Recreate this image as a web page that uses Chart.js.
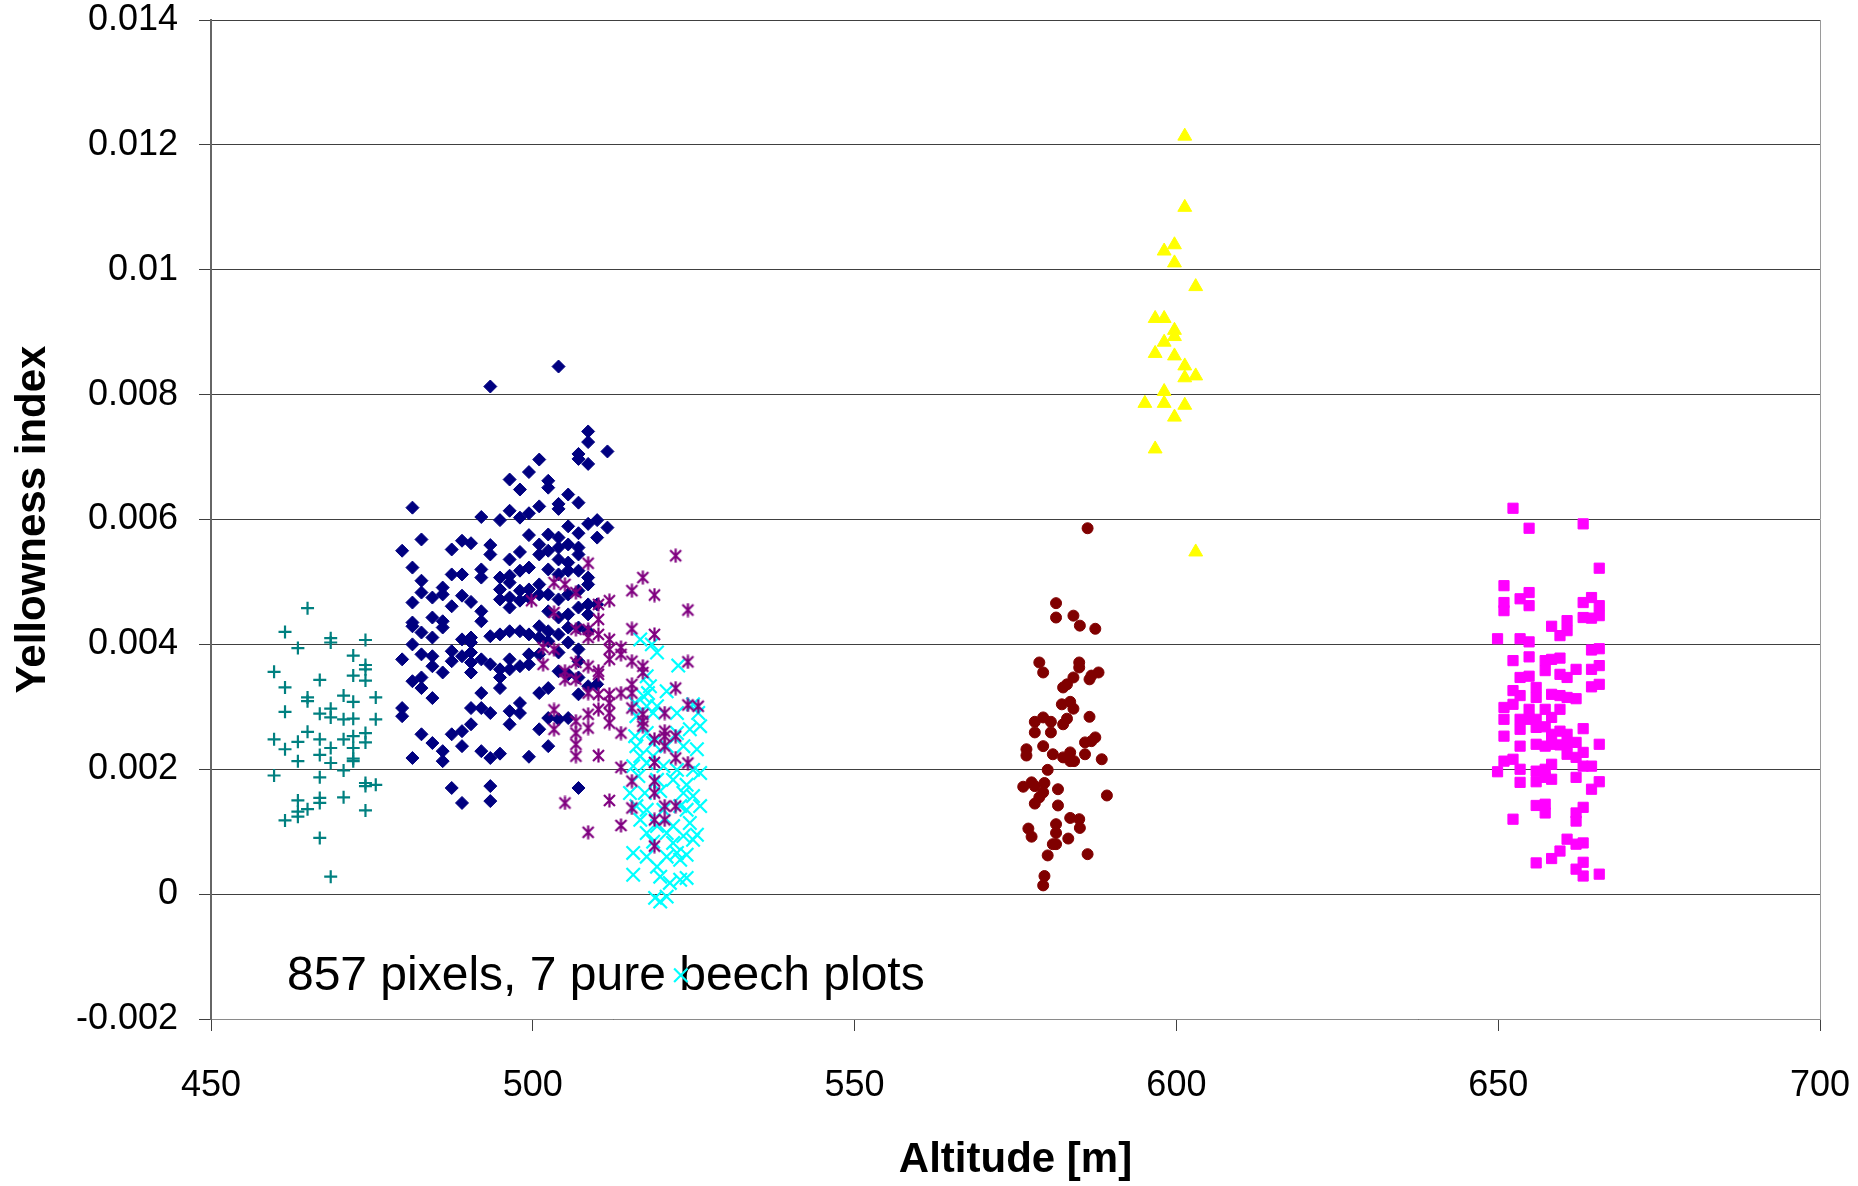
<!DOCTYPE html>
<html>
<head>
<meta charset="utf-8">
<script src="https://cdn.jsdelivr.net/npm/chart.js@4.4.1/dist/chart.umd.min.js"></script>
<style>
  html, body { margin: 0; padding: 0; background: #fff; }
  #chart { display: block; }
</style>
</head>
<body>
<canvas id="chart" width="1858" height="1186"></canvas>
<script>
// axis setup
const xMin = 450, xMax = 700, xStep = 50;
const yMin = -0.002, yMax = 0.014, yStep = 0.002;
const yTickLabels = ['-0.002', '0', '0.002', '0.004', '0.006', '0.008', '0.01', '0.012', '0.014'];
const xTitle = 'Altitude [m]';
const yTitle = 'Yellowness index';
const noteText = '857 pixels, 7 pure beech plots';
const notePos = [461.8, -0.00153]; // altitude, index (text baseline)

// [altitude, yellowness index] per plot
const tealPts = [
  [465.0,0.00458],[461.5,0.00420],[468.6,0.00410],[468.6,0.00403],[474.0,0.00407],[463.5,0.00394],
  [472.1,0.00382],[474.0,0.00367],[474.0,0.00360],[459.8,0.00356],[466.9,0.00343],[472.1,0.00350],
  [474.0,0.00342],[461.5,0.00331],[465.0,0.00315],[465.0,0.00309],[470.6,0.00318],[475.6,0.00315],
  [472.1,0.00308],[461.5,0.00292],[466.9,0.00289],[468.6,0.00297],[468.6,0.00283],[470.6,0.00280],
  [472.1,0.00281],[475.6,0.00280],[465.0,0.00260],[459.8,0.00248],[463.5,0.00244],[466.9,0.00248],
  [470.6,0.00248],[472.1,0.00253],[474.0,0.00258],[461.5,0.00232],[468.6,0.00234],[472.1,0.00234],
  [474.0,0.00243],[463.5,0.00213],[466.9,0.00223],[468.6,0.00210],[472.1,0.00217],[472.1,0.00213],
  [470.6,0.00198],[459.8,0.00190],[466.9,0.00187],[474.0,0.00178],[475.6,0.00175],[474.0,0.00173],
  [463.5,0.00150],[466.9,0.00154],[470.6,0.00155],[466.9,0.00146],[463.5,0.00132],[465.0,0.00136],
  [463.5,0.00124],[461.5,0.00118],[474.0,0.00134],[466.9,0.00090],[468.6,0.00028]
];

const navyPts = [
  [504.0,0.00845],[493.4,0.00813],
  [508.6,0.00741],[508.6,0.00724],[507.1,0.00705],[507.1,0.00697],[511.6,0.00709],[508.6,0.00689],
  [501.0,0.00696],[499.4,0.00676],[496.4,0.00664],[498.0,0.00648],[502.4,0.00662],[502.4,0.00651],
  [481.3,0.00619],[505.5,0.00640],[507.1,0.00627],[504.0,0.00625],[504.0,0.00617],[501.0,0.00621],
  [499.4,0.00610],[498.0,0.00603],[496.4,0.00614],[494.9,0.00599],[492.0,0.00604],[508.6,0.00593],
  [510.0,0.00599],[511.6,0.00587],[510.0,0.00571],[505.5,0.00589],[507.1,0.00578],[499.4,0.00575],
  [502.4,0.00576],[504.0,0.00571],[482.7,0.00568],[489.0,0.00566],[490.4,0.00562],[487.4,0.00552],
  [479.7,0.00550],[493.4,0.00559],[493.4,0.00544],[498.0,0.00548],[496.4,0.00536],[501.0,0.00560],
  [502.4,0.00550],[504.0,0.00555],[505.5,0.00560],[507.1,0.00555],[507.1,0.00544],[505.5,0.00531],
  [504.0,0.00536],[501.0,0.00544],[481.3,0.00523],[492.0,0.00520],[492.0,0.00507],[494.9,0.00507],
  [496.4,0.00510],[498.0,0.00518],[499.4,0.00523],[502.4,0.00520],[504.0,0.00512],[505.5,0.00518],
  [507.1,0.00518],[508.6,0.00507],[508.6,0.00496],[487.4,0.00512],[489.0,0.00512],[482.7,0.00502],
  [486.0,0.00491],[482.7,0.00483],[484.4,0.00475],[486.0,0.00480],[489.0,0.00478],[490.4,0.00468],
  [487.4,0.00461],[481.3,0.00467],[484.4,0.00443],[481.3,0.00435],[481.3,0.00429],[486.0,0.00437],
  [486.0,0.00427],[492.0,0.00453],[492.0,0.00437],[494.9,0.00488],[494.9,0.00472],[496.4,0.00499],
  [496.4,0.00475],[496.4,0.00459],[498.0,0.00486],[498.0,0.00470],[499.4,0.00488],[499.4,0.00475],
  [501.0,0.00496],[501.0,0.00480],[502.4,0.00480],[504.0,0.00472],[505.5,0.00480],[507.1,0.00486],
  [508.6,0.00464],[510.0,0.00464],[482.7,0.00419],[484.4,0.00411],[481.3,0.00400],[489.0,0.00408],
  [490.4,0.00411],[493.4,0.00413],[494.9,0.00416],[496.4,0.00421],[498.0,0.00421],[499.4,0.00416],
  [501.0,0.00429],[501.0,0.00411],[502.4,0.00421],[504.0,0.00416],[505.5,0.00427],[507.1,0.00427],
  [508.6,0.00421],[502.4,0.00453],[504.0,0.00443],[505.5,0.00448],[507.1,0.00459],[508.6,0.00448],
  [479.7,0.00376],[482.7,0.00384],[484.4,0.00381],[484.4,0.00365],[486.0,0.00355],[487.4,0.00389],
  [487.4,0.00373],[489.0,0.00381],[490.4,0.00403],[490.4,0.00387],[490.4,0.00371],[490.4,0.00355],
  [492.0,0.00376],[493.4,0.00368],[494.9,0.00360],[494.9,0.00347],[494.9,0.00330],[496.4,0.00376],
  [496.4,0.00360],[498.0,0.00365],[499.4,0.00384],[499.4,0.00368],[501.0,0.00384],[502.4,0.00405],
  [504.0,0.00387],[505.5,0.00403],[507.1,0.00392],[507.1,0.00373],[504.0,0.00357],[505.5,0.00352],
  [507.1,0.00347],[481.3,0.00341],[482.7,0.00347],[482.7,0.00330],[484.4,0.00314],[492.0,0.00322],
  [501.0,0.00322],[502.4,0.00330],[507.1,0.00320],[508.6,0.00333],[510.0,0.00336],[479.7,0.00298],
  [479.7,0.00285],[490.4,0.00298],[492.0,0.00298],[493.4,0.00290],[496.4,0.00293],[498.0,0.00306],
  [498.0,0.00290],[496.4,0.00272],[490.4,0.00272],[489.0,0.00261],[487.4,0.00256],[482.7,0.00256],
  [484.4,0.00242],[486.0,0.00229],[486.0,0.00213],[481.3,0.00218],[489.0,0.00237],[492.0,0.00229],
  [493.4,0.00218],[494.9,0.00225],[499.4,0.00220],[501.0,0.00264],[502.4,0.00237],[502.4,0.00282],
  [504.0,0.00280],[505.5,0.00282],[487.4,0.00170],[489.0,0.00146],[493.4,0.00173],[493.4,0.00149],
  [507.1,0.00170]
];

const purplePts = [
  [522.2,0.00542],[508.6,0.00530],[517.1,0.00507],[515.4,0.00486],[518.9,0.00479],[524.1,0.00455],
  [503.3,0.00499],[505.0,0.00496],[506.7,0.00483],[499.8,0.00470],[510.2,0.00464],[511.9,0.00470],
  [503.3,0.00451],[510.2,0.00440],[515.4,0.00425],[518.9,0.00416],[506.7,0.00424],[508.6,0.00424],
  [510.2,0.00416],[511.9,0.00408],[508.6,0.00411],[501.6,0.00395],[503.3,0.00392],[511.9,0.00392],
  [513.7,0.00395],[513.7,0.00384],[511.9,0.00376],[515.4,0.00373],[517.1,0.00365],[517.1,0.00355],
  [524.1,0.00372],[505.0,0.00357],[506.7,0.00371],[501.6,0.00368],[508.6,0.00365],[510.2,0.00357],
  [510.2,0.00352],[505.0,0.00344],[506.7,0.00344],[515.4,0.00336],[515.4,0.00322],[513.7,0.00322],
  [511.9,0.00320],[511.9,0.00306],[508.6,0.00322],[510.2,0.00320],[522.2,0.00330],[524.1,0.00303],
  [525.7,0.00301],[520.5,0.00290],[517.1,0.00288],[517.1,0.00277],[517.1,0.00269],[520.5,0.00261],
  [520.5,0.00253],[522.2,0.00253],[518.9,0.00248],[520.5,0.00237],[503.3,0.00295],[503.3,0.00264],
  [506.7,0.00277],[506.7,0.00258],[506.7,0.00240],[506.7,0.00221],[508.6,0.00288],[508.6,0.00266],
  [510.2,0.00296],[511.9,0.00290],[511.9,0.00274],[513.7,0.00258],[515.4,0.00298],[510.2,0.00222],
  [522.2,0.00218],[524.1,0.00210],[518.9,0.00211],[513.7,0.00203],[515.4,0.00181],[518.9,0.00181],
  [518.9,0.00162],[505.0,0.00146],[511.9,0.00150],[515.4,0.00138],[520.5,0.00141],[522.2,0.00141],
  [518.9,0.00119],[520.5,0.00119],[513.7,0.00110],[508.6,0.00099],[518.9,0.00077]
];

const cyanPts = [
  [516.7,0.00408],[518.5,0.00400],[519.3,0.00387],[522.6,0.00366],[517.7,0.00349],[518.2,0.00333],
  [517.2,0.00317],[517.9,0.00322],[520.8,0.00325],[515.9,0.00306],[517.7,0.00301],[519.3,0.00301],
  [516.1,0.00285],[518.7,0.00290],[522.4,0.00290],[524.9,0.00304],[525.7,0.00290],[526.0,0.00269],
  [524.4,0.00264],[522.4,0.00258],[517.7,0.00258],[515.9,0.00253],[518.7,0.00242],[516.1,0.00237],
  [520.8,0.00237],[523.4,0.00237],[525.5,0.00232],[516.7,0.00221],[518.7,0.00221],[515.6,0.00205],
  [517.7,0.00210],[520.3,0.00205],[522.4,0.00199],[524.9,0.00199],[526.0,0.00194],[516.4,0.00189],
  [519.3,0.00183],[521.8,0.00183],[523.9,0.00175],[515.1,0.00162],[517.4,0.00162],[519.8,0.00165],
  [523.4,0.00162],[524.9,0.00157],[526.0,0.00141],[516.1,0.00141],[517.7,0.00135],[520.3,0.00135],
  [522.9,0.00141],[523.9,0.00135],[516.7,0.00119],[519.3,0.00109],[521.8,0.00109],[524.4,0.00114],
  [517.7,0.00098],[520.8,0.00098],[523.4,0.00093],[518.7,0.00084],[521.8,0.00082],[524.9,0.00087],
  [525.5,0.00095],[515.6,0.00066],[517.7,0.00060],[520.8,0.00060],[522.4,0.00066],[523.9,0.00063],
  [519.3,0.00044],[522.9,0.00055],[515.6,0.00031],[519.8,0.00028],[521.3,0.00018],[522.9,0.00023],
  [523.9,0.00026],[519.0,-0.00006],[520.8,-0.00004],[519.8,-0.00012],[523.0,-0.00130]
];

const maroonPts = [
  [586.2,0.00586],[581.3,0.00466],[581.3,0.00443],[584.0,0.00446],[585.0,0.00430],[587.4,0.00425],
  [578.7,0.00371],[579.3,0.00355],[584.9,0.00371],[584.9,0.00363],[584.0,0.00347],[586.5,0.00344],
  [586.8,0.00350],[587.9,0.00355],[582.4,0.00331],[583.0,0.00336],[582.2,0.00304],[583.5,0.00308],
  [584.0,0.00297],[586.5,0.00284],[582.4,0.00272],[583.0,0.00281],[578.0,0.00276],[579.3,0.00283],
  [580.5,0.00276],[578.0,0.00259],[580.5,0.00259],[576.7,0.00232],[576.7,0.00222],[579.3,0.00237],
  [580.8,0.00224],[582.4,0.00219],[583.5,0.00227],[583.5,0.00213],[584.1,0.00213],[585.8,0.00224],
  [585.8,0.00243],[586.8,0.00245],[587.4,0.00251],[588.4,0.00216],[580.0,0.00199],[576.2,0.00172],
  [577.5,0.00179],[578.0,0.00173],[579.5,0.00178],[579.3,0.00163],[578.7,0.00155],[578.0,0.00145],
  [581.6,0.00168],[581.6,0.00142],[589.2,0.00158],[583.5,0.00122],[584.9,0.00120],[585.0,0.00106],
  [577.0,0.00105],[577.5,0.00092],[581.3,0.00112],[581.3,0.00098],[583.2,0.00089],[580.8,0.00080],
  [581.3,0.00080],[580.0,0.00062],[586.2,0.00064],[579.5,0.00029],[579.3,0.00014]
];

const yellowPts = [
  [601.3,0.01214],[601.3,0.01100],[599.7,0.01040],[598.1,0.01030],[599.7,0.01011],[603.0,0.00973],
  [596.7,0.00922],[598.1,0.00922],[599.7,0.00903],[599.7,0.00893],[598.1,0.00884],[596.7,0.00866],
  [599.7,0.00862],[601.3,0.00846],[601.3,0.00827],[603.0,0.00830],[598.1,0.00805],[595.1,0.00786],
  [598.1,0.00786],[601.3,0.00783],[599.7,0.00764],[596.7,0.00713],[603.0,0.00548]
];

const magentaPts = [
  [652.3,0.00618],[654.8,0.00586],[663.2,0.00593],[665.7,0.00522],[650.9,0.00494],[654.8,0.00483],
  [653.4,0.00473],[654.8,0.00462],[650.9,0.00467],[650.9,0.00454],[663.2,0.00467],[664.5,0.00475],
  [665.7,0.00462],[665.7,0.00446],[663.2,0.00443],[664.5,0.00442],[658.3,0.00429],[660.7,0.00438],
  [660.7,0.00422],[659.6,0.00414],[649.9,0.00409],[653.4,0.00409],[654.8,0.00404],[664.5,0.00391],
  [665.7,0.00393],[652.3,0.00374],[654.8,0.00380],[657.3,0.00374],[658.3,0.00376],[659.6,0.00378],
  [662.1,0.00360],[664.5,0.00360],[665.7,0.00366],[664.5,0.00332],[665.7,0.00336],[653.4,0.00347],
  [654.8,0.00349],[657.3,0.00358],[659.6,0.00352],[660.7,0.00347],[655.9,0.00331],[652.3,0.00326],
  [653.4,0.00318],[655.9,0.00315],[658.3,0.00320],[659.6,0.00318],[660.7,0.00315],[662.1,0.00313],
  [650.9,0.00299],[652.3,0.00304],[654.8,0.00296],[657.3,0.00296],[659.6,0.00296],[658.3,0.00283],
  [650.9,0.00280],[653.4,0.00280],[654.8,0.00280],[655.9,0.00280],[650.9,0.00253],[653.4,0.00264],
  [655.9,0.00267],[657.3,0.00268],[658.3,0.00256],[659.6,0.00261],[660.7,0.00256],[663.2,0.00265],
  [653.4,0.00237],[655.9,0.00240],[657.3,0.00237],[658.3,0.00240],[659.6,0.00239],[660.7,0.00240],
  [662.1,0.00243],[665.7,0.00240],[660.7,0.00224],[662.1,0.00219],[663.2,0.00227],[650.9,0.00213],
  [652.3,0.00216],[649.9,0.00196],[653.4,0.00200],[655.9,0.00197],[657.3,0.00200],[658.3,0.00208],
  [663.2,0.00205],[664.5,0.00205],[653.4,0.00179],[655.9,0.00180],[657.3,0.00187],[658.3,0.00184],
  [662.1,0.00187],[665.7,0.00180],[664.5,0.00168],[655.9,0.00142],[657.3,0.00144],[657.3,0.00130],
  [663.2,0.00139],[662.1,0.00130],[662.1,0.00117],[652.3,0.00120],[660.7,0.00088],[662.1,0.00080],
  [663.2,0.00082],[659.6,0.00069],[658.3,0.00057],[655.9,0.00050],[663.2,0.00051],[662.1,0.00040],
  [663.2,0.00029],[665.7,0.00032]
];

// Excel style asterisk: an x with a vertical bar
function asterisk(color, size) {
  const c = document.createElement('canvas');
  c.width = size; c.height = size;
  const g = c.getContext('2d');
  g.strokeStyle = color;
  g.lineWidth = 2.2;
  const lo = 2, hi = size - 2, mid = size / 2;
  g.beginPath();
  g.moveTo(lo, lo); g.lineTo(hi, hi);
  g.moveTo(hi, lo); g.lineTo(lo, hi);
  g.moveTo(mid, 0.5); g.lineTo(mid, size - 0.5);
  g.stroke();
  return c;
}

const toXY = pts => pts.map(p => ({ x: p[0], y: p[1] }));

function series(pts, color, style, radius, bw) {
  return {
    data: toXY(pts),
    pointStyle: style,
    pointRadius: radius,
    pointBackgroundColor: color,
    pointBorderColor: color,
    pointBorderWidth: bw,
    showLine: false
  };
}

const FONT = "'Liberation Sans', Arial, sans-serif";

// plot frame and the text note inside the plot
const framePlugin = {
  id: 'frame',
  beforeDatasetsDraw(chart) {
    const { ctx, chartArea: a, scales } = chart;
    ctx.save();
    ctx.strokeStyle = '#9a9a9a';
    ctx.lineWidth = 1;
    ctx.beginPath();
    ctx.moveTo(a.right + 0.5, a.top);
    ctx.lineTo(a.right + 0.5, a.bottom);
    ctx.stroke();
    ctx.fillStyle = '#000';
    ctx.font = '48px ' + FONT;
    ctx.textBaseline = 'alphabetic';
    ctx.textAlign = 'left';
    ctx.fillText(noteText, scales.x.getPixelForValue(notePos[0]), scales.y.getPixelForValue(notePos[1]));
    ctx.restore();
  }
};

new Chart(document.getElementById('chart'), {
  type: 'scatter',
  data: {
    datasets: [
      // first dataset is drawn on top
      series(purplePts, '#800080', asterisk('#800080', 15), 7, 2),
      series(cyanPts, '#00FFFF', 'crossRot', 9.5, 2.2),
      series(navyPts, '#000080', 'rectRot', 6.5, 1),
      series(tealPts, '#008080', 'cross', 6.5, 2.2),
      series(maroonPts, '#800000', 'circle', 5.5, 1),
      series(yellowPts, '#FFFF00', 'triangle', 8, 1),
      series(magentaPts, '#FF00FF', 'rect', 7.2, 1)
    ]
  },
  options: {
    responsive: false,
    animation: false,
    devicePixelRatio: 1,
    layout: { padding: { top: 20, right: 38, left: 0, bottom: 0 } },
    plugins: { legend: { display: false }, tooltip: { enabled: false } },
    scales: {
      x: {
        type: 'linear',
        min: xMin, max: xMax,
        afterFit: s => { s.height = 167; s.paddingLeft = 0; s.paddingRight = 0; },
        ticks: {
          stepSize: xStep,
          color: '#000',
          padding: 33,
          maxRotation: 0,
          font: { family: FONT, size: 36 }
        },
        grid: { drawOnChartArea: false, drawTicks: true, tickLength: 12, color: '#404040' },
        border: { display: true, color: '#8a8a8a', width: 1 },
        title: {
          display: true, text: xTitle, color: '#000',
          font: { family: FONT, size: 42, weight: 'bold' },
          padding: { top: 0, bottom: 0 }
        }
      },
      y: {
        type: 'linear',
        min: yMin, max: yMax,
        afterFit: s => { s.width = 211; s.paddingTop = 0; s.paddingBottom = 0; },
        ticks: {
          stepSize: yStep,
          color: '#000',
          padding: 21,
          font: { family: FONT, size: 36 },
          callback: (v, i) => yTickLabels[i]
        },
        grid: { color: '#404040', lineWidth: 1, drawTicks: true, tickLength: 12 },
        border: { display: true, color: '#666', width: 2 },
        title: {
          display: true, text: yTitle, color: '#000',
          font: { family: FONT, size: 42, weight: 'bold' },
          padding: { top: 8, bottom: 0 }
        }
      }
    }
  },
  plugins: [framePlugin]
});
</script>
</body>
</html>
